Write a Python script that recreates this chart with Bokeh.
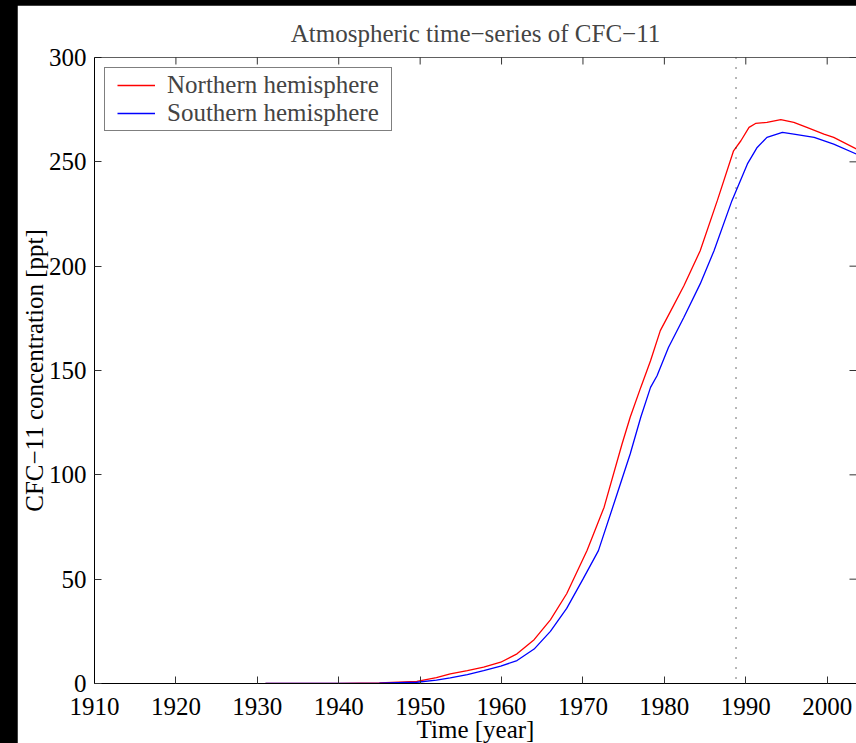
import math
from bokeh.plotting import figure
from bokeh.models import Range1d, FixedTicker, Span, Legend, LegendItem
from bokeh.embed import file_html
from bokeh.resources import INLINE

# ---- data ----
north_years = [1931, 1935, 1940, 1945, 1949.6, 1952, 1953.7, 1955.8, 1957.8, 1959.9,
               1961.9, 1964, 1966, 1968, 1970.5, 1972.6, 1974.8, 1975.8, 1977.1,
               1978.3, 1979.5, 1980.8, 1982.4, 1984.4, 1986.5, 1988.5, 1989.4,
               1990.4, 1991.2, 1992.6, 1994.3, 1995.9, 1997.5, 1999.6, 2000.8,
               2003.6, 2004]
north_ppt = [0, 0, 0.1, 0.3, 1.0, 2.8, 4.6, 6.2, 7.8, 10.2,
             14.2, 21, 30.5, 43, 63.7, 84.5, 114.8, 127.6, 141.9,
             154.7, 169.1, 178.7, 190.6, 207.4, 231.4, 255.3, 260.1,
             266.5, 268.4, 268.9, 270.2, 268.9, 266.5, 263.3, 261.7,
             256.1, 255.2]

south_years = [1931, 1935, 1940, 1945, 1949.6, 1952, 1953.7, 1955.8, 1957.8, 1959.9,
               1961.9, 1964, 1966, 1968, 1970, 1971.9, 1974.2, 1975.8, 1977.1,
               1978.3, 1979.1, 1980.5, 1982.4, 1984.4, 1986.1, 1988.3, 1990.2,
               1991.4, 1992.6, 1994.5, 1995.9, 1998.4, 2000.8, 2003.6, 2004]
south_ppt = [0, 0, 0.05, 0.2, 0.6, 1.6, 2.7, 4.3, 6.2, 8.3,
             11, 16.5, 25, 36, 50, 63.7, 90.9, 110, 127.6,
             141.9, 147.5, 161, 175.5, 191.5, 207.4, 231.4, 249,
             256.9, 261.7, 264.1, 263.3, 261.7, 258.5, 253.7, 253.0]

x_ticks = [1910, 1920, 1930, 1940, 1950, 1960, 1970, 1980, 1990, 2000]
y_ticks = [0, 50, 100, 150, 200, 250, 300]
x_min, x_max = 1910, 2003.6
y_min, y_max = 0, 300
marker_year = 1988.8

FONT = "Liberation Serif"
FS = "25px"
TICK_COLOR = "#333333"

p = figure(output_backend="svg", toolbar_location=None,
           frame_width=762, frame_height=626,
           min_border_left=77, min_border_right=0,
           min_border_top=52, min_border_bottom=60,
           x_range=Range1d(x_min, x_max), y_range=Range1d(y_min, y_max),
           title="Atmospheric time\u2212series of CFC\u221211")
p.margin = (5, 0, 0, 17)
p.background_fill_color = "white"
p.border_fill_color = "white"
p.outline_line_color = None
p.xgrid.visible = False
p.ygrid.visible = False

p.title.text_font = FONT
p.title.text_font_size = FS
p.title.text_font_style = "normal"
p.title.align = "center"
p.title.standoff = 22

def style_axis(ax):
    ax.axis_line_color = "black"
    ax.axis_line_width = 1
    ax.major_tick_in = 7
    ax.major_tick_out = 0
    ax.major_tick_line_color = TICK_COLOR
    ax.minor_tick_line_color = None
    ax.major_label_text_font = FONT
    ax.major_label_text_font_size = FS
    ax.major_label_text_color = "black"
    ax.axis_label_text_font = FONT
    ax.axis_label_text_font_size = FS
    ax.axis_label_text_font_style = "normal"
    ax.axis_label_text_color = "black"

xa = p.xaxis[0]
xa.ticker = FixedTicker(ticks=x_ticks)
xa.axis_label = "Time [year]"
style_axis(xa)
xa.major_label_standoff = 14
xa.axis_label_standoff = -2

ya = p.yaxis[0]
ya.ticker = FixedTicker(ticks=y_ticks)
ya.axis_label = "CFC\u221211 concentration [ppt]"
style_axis(ya)
ya.major_label_standoff = 8
ya.axis_label_standoff = -2

# top frame line and inward ticks on the top and right edges (half clipped by the frame)
p.add_layout(Span(location=y_max, dimension="width", line_color="black", line_width=1))
p.scatter(x=x_ticks, y=[y_max] * len(x_ticks), marker="dash", size=14,
          angle=math.pi / 2, line_color=TICK_COLOR, line_width=1)
p.scatter(x=[x_max] * len(y_ticks), y=y_ticks, marker="dash", size=14,
          line_color=TICK_COLOR, line_width=1)

p.add_layout(Span(location=marker_year, dimension="height", line_color="#111111",
                  line_width=1.2, line_dash="1 9"))

rn = p.line(north_years, north_ppt, line_color="#ff0000", line_width=1.3)
rs = p.line(south_years, south_ppt, line_color="#0000ff", line_width=1.3)

legend = Legend(items=[LegendItem(label="Northern hemisphere", renderers=[rn]),
                       LegendItem(label="Southern hemisphere", renderers=[rs])],
                location="top_left")
legend.margin = 10
try:
    legend.padding = dict(top=3, bottom=3, left=12, right=12)
except Exception:
    legend.padding = 5
legend.spacing = 0
legend.glyph_width = 38
legend.label_standoff = 12
legend.label_text_font = FONT
legend.label_text_font_size = FS
legend.border_line_color = "black"
legend.border_line_width = 1
legend.background_fill_color = "white"
legend.background_fill_alpha = 1
p.add_layout(legend)

html = file_html(p, INLINE)
html = html.replace("<head>", "<head><style>html,body{margin:0;padding:0;background:#000;overflow:hidden;}</style>", 1)
open("out.html", "w").write(html)
